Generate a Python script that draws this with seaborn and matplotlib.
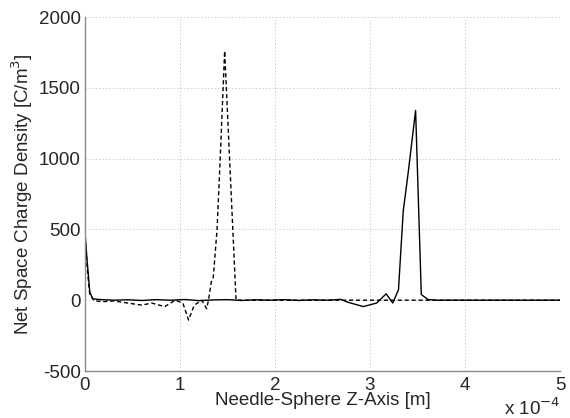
import numpy as np
import pandas as pd
import seaborn as sns
import matplotlib.pyplot as plt

# z position along the needle-sphere axis, in units of 1e-4 m
z_solid = [0.0, 0.02, 0.05, 0.08, 0.15, 0.3, 0.45, 0.6, 0.75, 0.9, 1.05, 1.2, 1.35,
           1.5, 1.65, 1.8, 1.95, 2.1, 2.25, 2.4, 2.55, 2.69, 2.77, 2.93, 3.07, 3.17,
           3.24, 3.30, 3.35, 3.40, 3.48, 3.54, 3.61, 3.7, 4.0, 4.5, 5.0]
rho_solid = [480, 300, 60, 10, 5, 0, 3, -2, 4, 0, 5, -3, 2,
             4, -2, 3, 0, 4, -2, 3, 0, 6, -15, -45, -20, 45,
             -20, 75, 630, 890, 1340, 40, 5, 0, 0, 0, 0]

z_dashed = [0.0, 0.02, 0.05, 0.1, 0.2, 0.3, 0.4, 0.5, 0.6, 0.7, 0.84, 0.95, 1.03,
            1.09, 1.15, 1.23, 1.28, 1.30, 1.33, 1.35, 1.39, 1.42, 1.47, 1.59,
            1.7, 2.0, 3.0, 4.0, 5.0]
rho_dashed = [460, 250, 40, -5, -10, -5, -15, -25, -35, -20, -45, 0, -20,
              -140, -35, 0, -60, 0, 130, 160, 500, 950, 1760, 0,
              0, 0, 0, 0, 0]

x_ticks = [0, 1, 2, 3, 4, 5]
y_ticks = [-500, 0, 500, 1000, 1500, 2000]

sns.set_style("white")
plt.rcParams["font.family"] = ["Liberation Sans", "DejaVu Sans"]
plt.rcParams["font.size"] = 13.5

solid = pd.DataFrame({"z": z_solid, "rho": rho_solid})
dashed = pd.DataFrame({"z": z_dashed, "rho": rho_dashed})

fig = plt.figure(figsize=(5.70, 4.18), dpi=100)
ax = fig.add_axes([85 / 570, 47 / 418, 475 / 570, 354 / 418])

sns.lineplot(data=solid, x="z", y="rho", sort=False, color="black", lw=1.0, ax=ax)
sns.lineplot(data=dashed, x="z", y="rho", sort=False, color="black", lw=1.0,
             ax=ax, linestyle=(0, (3, 2)))

ax.set_xlim(0, 5)
ax.set_ylim(-500, 2000)
ax.set_xticks(x_ticks)
ax.set_yticks(y_ticks)
ax.set_xticklabels([str(t) for t in x_ticks])
ax.set_yticklabels([str(t) for t in y_ticks])
ax.grid(True, linestyle=(0, (1.5, 2)), color="#d0d0d0", lw=0.7)

for side in ["top", "right"]:
    ax.spines[side].set_visible(False)
for side in ["left", "bottom"]:
    ax.spines[side].set_color("#8c8c8c")
    ax.spines[side].set_linewidth(1.0)
ax.tick_params(direction="in", length=4, color="#8c8c8c", labelsize=13.5)
ax.tick_params(axis="x", pad=4)
ax.tick_params(axis="y", pad=3)

ax.set_xlabel("Needle-Sphere Z-Axis [m]", fontsize=13.5, labelpad=-1)
ax.set_ylabel("Net Space Charge Density [C/m$^3$]", fontsize=13.5, labelpad=3)
fig.text(560 / 570, 3 / 418, "x 10$^{-4}$", ha="right", va="baseline", fontsize=13.5)

fig.savefig("out.png", dpi=100)
